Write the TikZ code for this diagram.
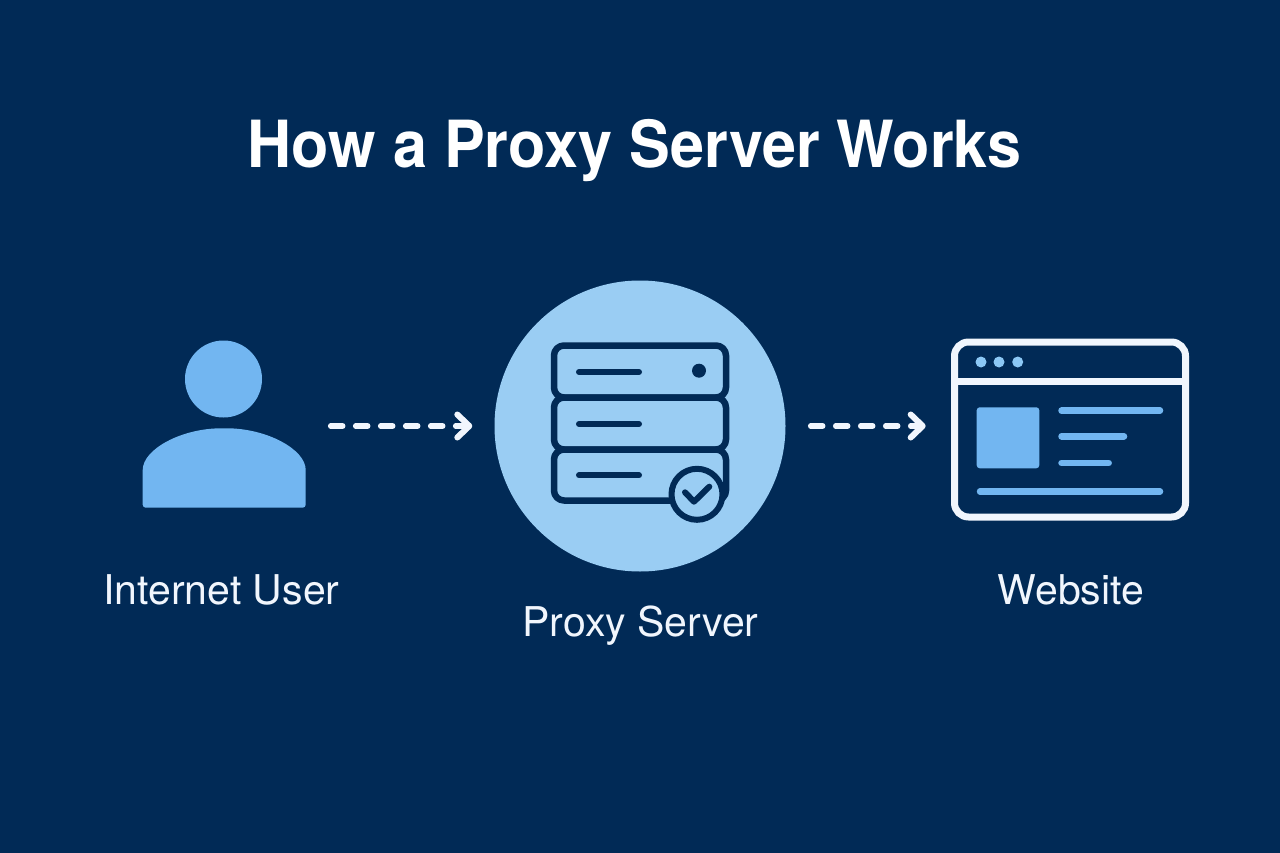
\documentclass[tikz,border=0pt]{standalone}
\usepackage{fontspec}
\setmainfont{TeX Gyre Heros}
\usetikzlibrary{arrows.meta}
\definecolor{bgnavy}{HTML}{012A56}
\definecolor{disc}{HTML}{9ACDF3}
\definecolor{iconblue}{HTML}{72B6F1}
\definecolor{paper}{HTML}{F1F6FD}
\definecolor{dotblue}{HTML}{8CC8F5}
\tikzset{
  x=1pt,y=-1pt,
  anchorbox/.style={inner sep=0pt,outer sep=0pt,minimum width=#1},
  titletext/.style={text=white,font=\fontsize{65}{70}\selectfont\bfseries,inner sep=0pt,anchor=base},
  labeltext/.style={text=paper,font=\fontsize{41}{46}\selectfont,inner sep=0pt,anchor=base},
  flow/.style={draw=paper,line width=5.5pt,line cap=round,dash pattern=on 12pt off 13pt,
    -{Straight Barb[length=12pt,width=23pt,line width=6pt,round]}},
  rackunit/.style={draw=bgnavy,line width=6.5pt,rounded corners=10pt,line join=round},
  inkline/.style={draw=bgnavy,line width=6pt,line cap=round,line join=round},
  pageline/.style={draw=iconblue,line width=6.5pt,line cap=round},
}
\begin{document}
\begin{tikzpicture}
\useasboundingbox (0,0) rectangle (1280,853);
\fill[bgnavy] (0,0) rectangle (1280,853);
\node[titletext] (title) at (634.5,168) {\scalebox{0.94}[1]{How a Proxy Server Works}};
% user
\fill[iconblue] (223.5,379) circle (38.5);
\fill[iconblue,rounded corners=3pt] (142.7,507.7) -- (142.7,473)
  .. controls (142.7,449) and (182,428.3) .. (224,428.3)
  .. controls (266,428.3) and (305.7,449) .. (305.7,473) -- (305.7,507.7) -- cycle;
\node[anchorbox=163pt,minimum height=167pt] (user) at (224.2,426) {};
% proxy
\node[circle,fill=disc,inner sep=0pt,minimum size=291pt] (proxy) at (640,426) {};
\draw[rackunit] (554,345.5) rectangle (726,397.5);
\draw[rackunit] (554,397.5) rectangle (726,449.5);
\draw[rackunit] (554,449.5) rectangle (726,500.5);
\draw[inkline] (579,372) -- (639,372);
\draw[inkline] (579,424) -- (639,424);
\draw[inkline] (579,475.3) -- (639,475.3);
\fill[bgnavy] (699,370.7) circle (7);
\draw[inkline,fill=disc] (697,494.3) circle (25.5);
\draw[inkline] (685,492.3) -- (694,501.7) -- (709.3,486.7);
% website
\node[anchorbox=238.6pt,minimum height=182pt] (site) at (1070,429.5) {};
\draw[paper,line width=7pt,rounded corners=14pt] (954.5,342) rectangle (1185.5,517);
\draw[paper,line width=7pt] (954.5,381.7) -- (1185.5,381.7);
\fill[dotblue] (981,362) circle (5.5) (999,362) circle (5.5) (1017.7,362) circle (5.5);
\fill[iconblue,rounded corners=3pt] (976.7,407.3) rectangle (1039.3,468.3);
\draw[pageline] (1061.5,410.7) -- (1160,410.7);
\draw[pageline] (1061.5,436.3) -- (1124,436.3);
\draw[pageline] (1061.5,463) -- (1108.7,463);
\draw[pageline] (980,491.5) -- (1160,491.5);
% connectors
\draw[flow,shorten <=25pt,shorten >=22pt] (user.east) -- (proxy.west);
\draw[flow,shorten <=25pt,shorten >=25pt] (proxy.east) -- (proxy.east -| site.west);
% labels
\node[labeltext] (userlabel) at (221.5,604) {Internet User};
\node[labeltext] (proxylabel) at (640.5,636) {Proxy Server};
\node[labeltext] (sitelabel) at (1071,604) {Website};
\end{tikzpicture}
\end{document}
